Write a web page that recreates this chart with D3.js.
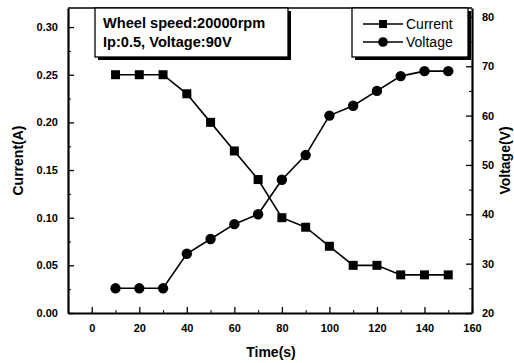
<!DOCTYPE html>
<html>
<head>
<meta charset="utf-8">
<script src="https://cdn.jsdelivr.net/npm/d3@7"></script>
<style>
  body { margin: 0; background: #fff; }
  text { font-family: Arial, "Liberation Sans", sans-serif; fill: #000; }
</style>
</head>
<body>
<div id="chart"></div>
<script>
const times = [10, 20, 30, 40, 50, 60, 70, 80, 90, 100, 110, 120, 130, 140, 150];
const current = [0.25, 0.25, 0.25, 0.23, 0.20, 0.17, 0.14, 0.10, 0.09, 0.07, 0.05, 0.05, 0.04, 0.04, 0.04];
const voltage = [25, 25, 25, 32, 35, 38, 40, 47, 52, 60, 62, 65, 68, 69, 69];
const xTicks = [0, 20, 40, 60, 80, 100, 120, 140, 160];
const currentTicks = [0, 0.05, 0.10, 0.15, 0.20, 0.25, 0.30];
const voltageTicks = [20, 30, 40, 50, 60, 70, 80];
const infoLines = ['Wheel speed:20000rpm', 'Ip:0.5, Voltage:90V'];

const W = 514, H = 363;
const margin = { top: 8, right: 42, bottom: 50, left: 68 };
const width = W - margin.left - margin.right,
  height = H - margin.top - margin.bottom;

const x = d3.scaleLinear().domain([-10, 160]).range([0, width]);
const yL = d3.scaleLinear().domain([0, 0.32]).range([height, 0]);
const yR = d3.scaleLinear().domain([20, 81.8]).range([height, 0]);

const svg = d3.select('#chart').append('svg')
  .attr('width', W).attr('height', H)
  .append('g')
  .attr('transform', 'translate(' + margin.left + ',' + margin.top + ')');

// minor ticks
const minorX = d3.range(-10, 161, 10).filter((v) => xTicks.indexOf(v) < 0);
const minorL = d3.range(0.025, 0.32, 0.05);
const minorR = d3.range(25, 81, 10);

svg.append('g').attr('transform', 'translate(0,' + height + ')')
  .call(d3.axisBottom(x).tickValues(minorX).tickSize(-3).tickFormat(''))
  .call((g) => g.select('.domain').remove());
svg.append('g')
  .call(d3.axisLeft(yL).tickValues(minorL).tickSize(-3).tickFormat(''))
  .call((g) => g.select('.domain').remove());
svg.append('g').attr('transform', 'translate(' + width + ',0)')
  .call(d3.axisRight(yR).tickValues(minorR).tickSize(-3).tickFormat(''))
  .call((g) => g.select('.domain').remove());

// major axes
const xAxis = svg.append('g').attr('transform', 'translate(0,' + height + ')')
  .call(d3.axisBottom(x).tickValues(xTicks).tickSize(-6).tickPadding(11).tickSizeOuter(0));
const lAxis = svg.append('g')
  .call(d3.axisLeft(yL).tickValues(currentTicks).tickSize(-6).tickPadding(10)
    .tickSizeOuter(0).tickFormat(d3.format('.2f')));
const rAxis = svg.append('g').attr('transform', 'translate(' + width + ',0)')
  .call(d3.axisRight(yR).tickValues(voltageTicks).tickSize(-6).tickPadding(10).tickSizeOuter(0));

[xAxis, lAxis, rAxis].forEach((g) => {
  g.selectAll('.domain').attr('stroke-width', 2.2);
  g.selectAll('.tick line').attr('stroke-width', 1.3);
  g.selectAll('text').style('font-size', '11px').style('font-weight', 'bold')
    .style('font-family', 'Arial, sans-serif');
});
svg.selectAll('.tick line').attr('stroke', '#000');

// top frame
svg.append('line').attr('x1', 0).attr('x2', width).attr('y1', 0).attr('y2', 0)
  .attr('stroke', '#000').attr('stroke-width', 1.3);

// axis titles
svg.append('text').attr('x', width / 2 + 1).attr('y', height + 44)
  .attr('text-anchor', 'middle').style('font-size', '14px').style('font-weight', 'bold')
  .text('Time(s)');
svg.append('text').attr('transform', 'translate(' + (-45) + ',' + (height / 2) + ') rotate(-90)')
  .attr('text-anchor', 'middle').style('font-size', '14px').style('font-weight', 'bold')
  .text('Current(A)');
svg.append('text').attr('transform', 'translate(' + (width + 38) + ',' + (height / 2) + ') rotate(-90)')
  .attr('text-anchor', 'middle').style('font-size', '14px').style('font-weight', 'bold')
  .text('Voltage(V)');

// series
const curData = times.map((t, i) => ({ t: t, v: current[i] }));
const volData = times.map((t, i) => ({ t: t, v: voltage[i] }));

svg.append('path').datum(curData)
  .attr('fill', 'none').attr('stroke', '#000').attr('stroke-width', 1.6)
  .attr('d', d3.line().x((d) => x(d.t)).y((d) => yL(d.v)));
svg.append('path').datum(volData)
  .attr('fill', 'none').attr('stroke', '#000').attr('stroke-width', 1.6)
  .attr('d', d3.line().x((d) => x(d.t)).y((d) => yR(d.v)));

const sq = 9;
svg.selectAll('.cur').data(curData).enter().append('rect')
  .attr('class', 'cur')
  .attr('x', (d) => x(d.t) - sq / 2).attr('y', (d) => yL(d.v) - sq / 2)
  .attr('width', sq).attr('height', sq).attr('fill', '#000');
svg.selectAll('.vol').data(volData).enter().append('circle')
  .attr('class', 'vol')
  .attr('cx', (d) => x(d.t)).attr('cy', (d) => yR(d.v))
  .attr('r', 5.2).attr('fill', '#000');

// info box (with shadow)
const bx = 95 - margin.left, by = 0, bw = 193, bh = 49;
svg.append('rect').attr('x', bx + 3).attr('y', by + 3).attr('width', bw).attr('height', bh).attr('fill', '#000');
svg.append('rect').attr('x', bx).attr('y', by).attr('width', bw).attr('height', bh)
  .attr('fill', '#fff').attr('stroke', '#000').attr('stroke-width', 1.3);
svg.selectAll('.info').data(infoLines).enter().append('text')
  .attr('x', bx + 8).attr('y', (d, i) => 20 + i * 19)
  .style('font-size', '14.6px').style('font-weight', 'bold')
  .text((d) => d);

// legend box
const lx = 352 - margin.left, lw = 116, lh = 49;
svg.append('rect').attr('x', lx + 3).attr('y', 3).attr('width', lw).attr('height', lh).attr('fill', '#000');
svg.append('rect').attr('x', lx).attr('y', 0).attr('width', lw).attr('height', lh)
  .attr('fill', '#fff').attr('stroke', '#000').attr('stroke-width', 1.3);
const legend = [{ name: 'Current', shape: 'square' }, { name: 'Voltage', shape: 'circle' }];
legend.forEach((d, i) => {
  const cy = 16 + i * 18;
  const g = svg.append('g');
  g.append('line').attr('x1', lx + 11).attr('x2', lx + 51).attr('y1', cy).attr('y2', cy)
    .attr('stroke', '#000').attr('stroke-width', 1.3);
  if (d.shape === 'square') {
    g.append('rect').attr('x', lx + 31 - 4).attr('y', cy - 4).attr('width', 8).attr('height', 8).attr('fill', '#000');
  } else {
    g.append('circle').attr('cx', lx + 31).attr('cy', cy).attr('r', 4.8).attr('fill', '#000');
  }
  g.append('text').attr('x', lx + 54).attr('y', cy + 5).style('font-size', '14px').text(d.name);
});
</script>
</body>
</html>
